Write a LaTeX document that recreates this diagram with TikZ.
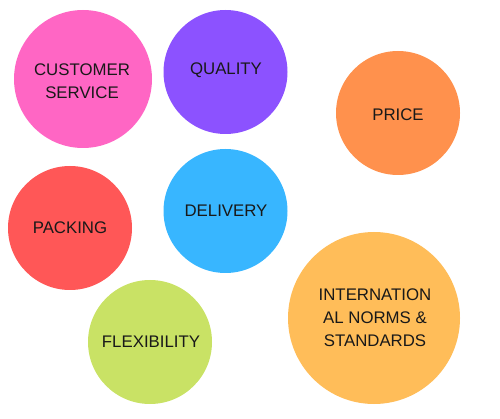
\documentclass[tikz,border=0pt]{standalone}
\usepackage{fontspec}
\setmainfont{Liberation Sans}
\definecolor{cpink}{HTML}{FF66C4}
\definecolor{cpurple}{HTML}{8C52FF}
\definecolor{corange}{HTML}{FF914D}
\definecolor{cred}{HTML}{FF5757}
\definecolor{cblue}{HTML}{38B6FF}
\definecolor{cgreen}{HTML}{C9E265}
\definecolor{clorange}{HTML}{FFBD59}
\begin{document}
\begin{tikzpicture}[x=1pt,y=-1pt,
  bubble/.style={circle,inner sep=0pt,align=center,text=black!90,
    font=\fontsize{16.8}{23}\selectfont}]
\useasboundingbox (0,0) rectangle (500,419);
\node[bubble,fill=cpink,minimum size=138pt] (cs) at (83,79) {};
\node[bubble,fill=cpurple,minimum size=124pt] (q) at (225.5,72) {};
\node[bubble,fill=corange,minimum size=124pt] (p) at (398,113) {};
\node[bubble,fill=cred,minimum size=124pt] (pk) at (70,228) {};
\node[bubble,fill=cblue,minimum size=124pt] (d) at (225.5,211) {};
\node[bubble,fill=cgreen,minimum size=124pt] (f) at (150,342) {};
\node[bubble,fill=clorange,minimum size=172pt] (n) at (374,318) {};
\node[bubble] (tcs) at (82,81) {CUSTOMER\\SERVICE};
\node[bubble] (tq) at (226,70) {QUALITY};
\node[bubble] (tp) at (398,115) {PRICE};
\node[bubble] (tpk) at (70,228) {PACKING};
\node[bubble] (td) at (226,211) {DELIVERY};
\node[bubble] (tf) at (151,342) {FLEXIBILITY};
\node[bubble] (tn) at (375,318) {INTERNATION\\AL NORMS \&\\STANDARDS};
\end{tikzpicture}
\end{document}
